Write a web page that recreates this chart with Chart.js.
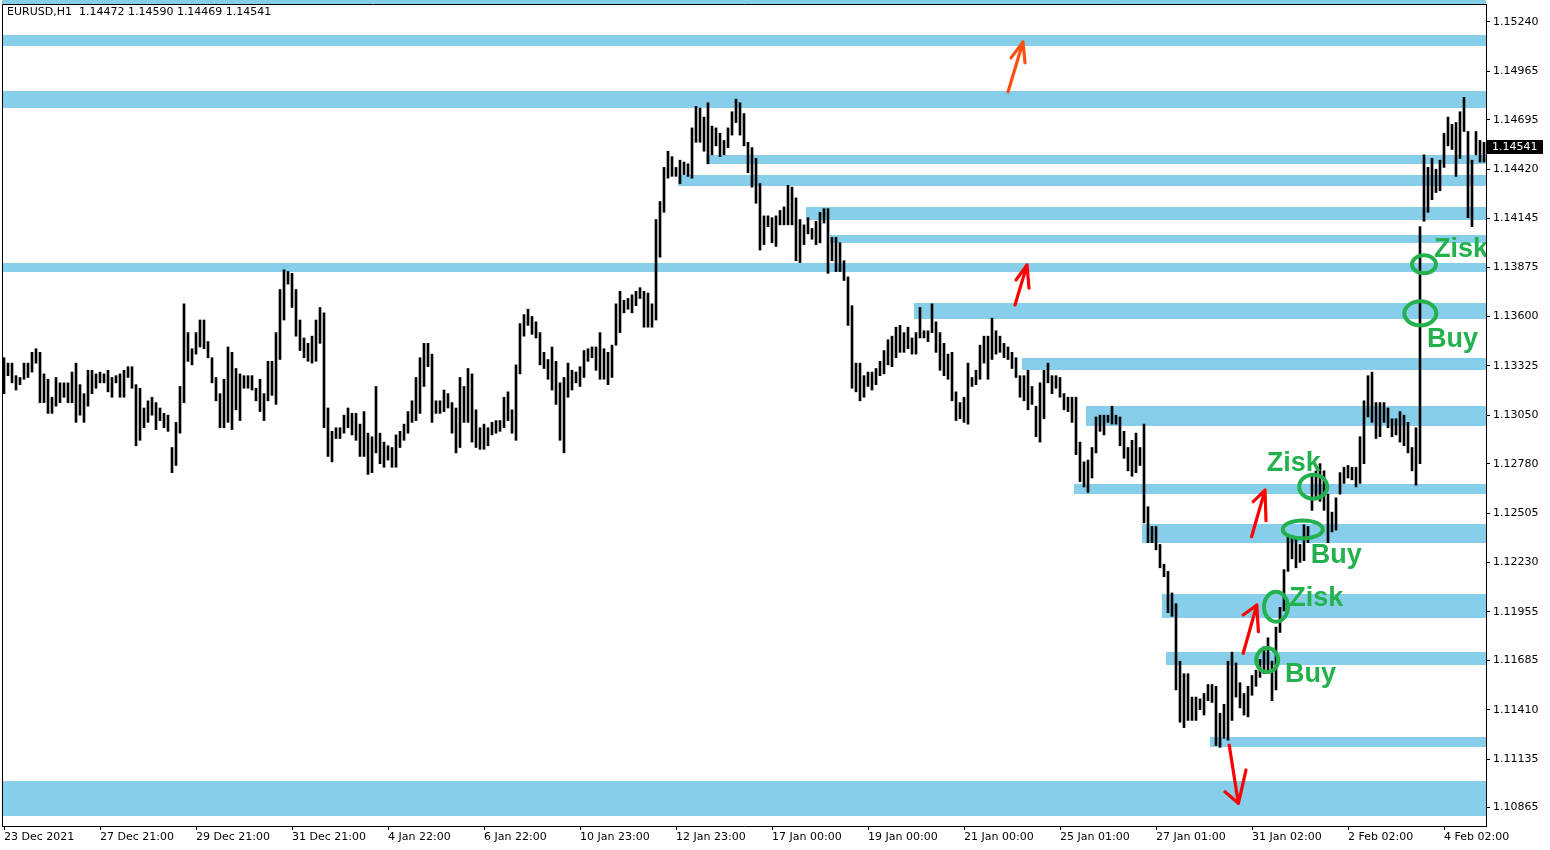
<!DOCTYPE html>
<html>
<head>
<meta charset="utf-8">
<title>EURUSD,H1</title>
<script src="https://cdn.jsdelivr.net/npm/chart.js@4.4.1/dist/chart.umd.min.js"></script>
<style>
  html, body { margin: 0; padding: 0; background: #fff; }
  #wrap { width: 1550px; height: 850px; }
</style>
</head>
<body>
<div id="wrap"><canvas id="mt4Chart" width="1550" height="850"></canvas></div>
<script>
// EURUSD H1, two hourly bars merged into one high/low range
const symbolName = 'EURUSD,H1';
const headerValues = [1.14472, 1.14590, 1.14469, 1.14541]; // open high low close

const timeLabels = ['23 Dec 2021', '27 Dec 21:00', '29 Dec 21:00', '31 Dec 21:00', '4 Jan 22:00', '6 Jan 22:00',
  '10 Jan 23:00', '12 Jan 23:00', '17 Jan 00:00', '19 Jan 00:00', '21 Jan 00:00', '25 Jan 01:00',
  '27 Jan 01:00', '31 Jan 02:00', '2 Feb 02:00', '4 Feb 02:00'];
const barsPerLabel = 24;

const priceTicks = [1.15240, 1.14965, 1.14695, 1.14420, 1.14145, 1.13875, 1.13600, 1.13325, 1.13050,
  1.12780, 1.12505, 1.12230, 1.11955, 1.11685, 1.11410, 1.11135, 1.10865];

const highs = [
  1.1337, 1.1334, 1.1334, 1.1327, 1.1326, 1.1334, 1.1334, 1.1340, 1.1342, 1.1340,
  1.1328, 1.1325, 1.1315, 1.1326, 1.1323, 1.1323, 1.1323, 1.1329, 1.1334, 1.1322,
  1.1317, 1.1330, 1.1330, 1.1328, 1.1329, 1.1328, 1.1330, 1.1326, 1.1327, 1.1328,
  1.1330, 1.1332, 1.1332, 1.1322, 1.1320, 1.1309, 1.1313, 1.1315, 1.1312, 1.1309,
  1.1306, 1.1305, 1.1287, 1.1301, 1.1321, 1.1367, 1.1351, 1.1342, 1.1351, 1.1358,
  1.1358, 1.1346, 1.1337, 1.1326, 1.1317, 1.1325, 1.1343, 1.1340, 1.1331, 1.1328,
  1.1327, 1.1327, 1.1327, 1.1320, 1.1325, 1.1317, 1.1335, 1.1335, 1.1351, 1.1375,
  1.1386, 1.1385, 1.1384, 1.1375, 1.1358, 1.1348, 1.1345, 1.1349, 1.1358, 1.1365,
  1.1362, 1.1309, 1.1296, 1.1298, 1.1298, 1.1305, 1.1309, 1.1306, 1.1306, 1.1300,
  1.1307, 1.1295, 1.1293, 1.1321, 1.1295, 1.1290, 1.1288, 1.1287, 1.1294, 1.1296,
  1.1300, 1.1307, 1.1313, 1.1326, 1.1337, 1.1345, 1.1345, 1.1339, 1.1313, 1.1313,
  1.1319, 1.1317, 1.1312, 1.1309, 1.1326, 1.1321, 1.1331, 1.1328, 1.1308, 1.1298,
  1.1300, 1.1298, 1.1301, 1.1302, 1.1302, 1.1315, 1.1318, 1.1308, 1.1333, 1.1356,
  1.1361, 1.1364, 1.1360, 1.1357, 1.1351, 1.1340, 1.1336, 1.1343, 1.1335, 1.1323,
  1.1326, 1.1334, 1.1330, 1.1329, 1.1332, 1.1341, 1.1342, 1.1343, 1.1343, 1.1351,
  1.1342, 1.1340, 1.1344, 1.1367, 1.1374, 1.1369, 1.1370, 1.1372, 1.1374, 1.1376,
  1.1374, 1.1373, 1.1367, 1.1414, 1.1424, 1.1443, 1.1452, 1.1449, 1.1443, 1.1447,
  1.1446, 1.1445, 1.1465, 1.1477, 1.1476, 1.1471, 1.1479, 1.1466, 1.1465, 1.1462,
  1.1458, 1.1465, 1.1474, 1.1481, 1.1479, 1.1473, 1.1457, 1.1454, 1.1448, 1.1434,
  1.1416, 1.1416, 1.1415, 1.1416, 1.1419, 1.1421, 1.1433, 1.1432, 1.1426, 1.1414,
  1.1411, 1.1415, 1.1409, 1.1413, 1.1418, 1.1420, 1.1420, 1.1404, 1.1404, 1.1401,
  1.1391, 1.1382, 1.1366, 1.1334, 1.1334, 1.1327, 1.1329, 1.1329, 1.1331, 1.1335,
  1.1341, 1.1347, 1.1349, 1.1354, 1.1355, 1.1351, 1.1354, 1.1348, 1.1351, 1.1365,
  1.1352, 1.1352, 1.1367, 1.1357, 1.1351, 1.1345, 1.1339, 1.1340, 1.1318, 1.1312,
  1.1315, 1.1334, 1.1326, 1.1330, 1.1344, 1.1349, 1.1349, 1.1359, 1.1352, 1.1349,
  1.1345, 1.1343, 1.1340, 1.1337, 1.1327, 1.1327, 1.1330, 1.1321, 1.1310, 1.1323,
  1.1330, 1.1334, 1.1327, 1.1327, 1.1326, 1.1317, 1.1315, 1.1315, 1.1315, 1.1290,
  1.1279, 1.1280, 1.1287, 1.1304, 1.1305, 1.1305, 1.1305, 1.1310, 1.1305, 1.1304,
  1.1296, 1.1287, 1.1291, 1.1295, 1.1287, 1.1300, 1.1254, 1.1243, 1.1243, 1.1233,
  1.1222, 1.1218, 1.1206, 1.1200, 1.1168, 1.1161, 1.1161, 1.1148, 1.1148, 1.1147,
  1.1150, 1.1155, 1.1155, 1.1154, 1.1139, 1.1144, 1.1168, 1.1173, 1.1167, 1.1156,
  1.1150, 1.1154, 1.1160, 1.1163, 1.1169, 1.1176, 1.1181, 1.1168, 1.1187, 1.1198,
  1.1219, 1.1237, 1.1237, 1.1237, 1.1233, 1.1244, 1.1243, 1.1271, 1.1274, 1.1278,
  1.1274, 1.1261, 1.1251, 1.1259, 1.1273, 1.1276, 1.1277, 1.1276, 1.1276, 1.1293,
  1.1313, 1.1327, 1.1329, 1.1312, 1.1312, 1.1312, 1.1309, 1.1303, 1.1303, 1.1307,
  1.1305, 1.1301, 1.1287, 1.1298, 1.1410, 1.1450, 1.1443, 1.1448, 1.1442, 1.1447,
  1.1462, 1.1471, 1.1467, 1.1468, 1.1474, 1.1482, 1.1463, 1.1447, 1.1463, 1.1458, 1.1457
];

const lows = [
  1.1317, 1.1327, 1.1323, 1.1319, 1.1322, 1.1325, 1.1326, 1.1329, 1.1334, 1.1312,
  1.1312, 1.1306, 1.1306, 1.1310, 1.1312, 1.1315, 1.1312, 1.1312, 1.1301, 1.1305,
  1.1301, 1.1310, 1.1317, 1.1320, 1.1323, 1.1323, 1.1318, 1.1315, 1.1323, 1.1315,
  1.1315, 1.1326, 1.1320, 1.1288, 1.1291, 1.1298, 1.1301, 1.1305, 1.1297, 1.1302,
  1.1298, 1.1296, 1.1273, 1.1277, 1.1295, 1.1312, 1.1335, 1.1333, 1.1339, 1.1343,
  1.1342, 1.1337, 1.1323, 1.1313, 1.1298, 1.1298, 1.1301, 1.1297, 1.1308, 1.1302,
  1.1320, 1.1320, 1.1319, 1.1313, 1.1307, 1.1302, 1.1313, 1.1316, 1.1311, 1.1336,
  1.1358, 1.1378, 1.1365, 1.1349, 1.1341, 1.1337, 1.1335, 1.1334, 1.1335, 1.1345,
  1.1298, 1.1282, 1.1279, 1.1292, 1.1292, 1.1295, 1.1298, 1.1294, 1.1291, 1.1282,
  1.1282, 1.1272, 1.1273, 1.1284, 1.1278, 1.1276, 1.1280, 1.1276, 1.1276, 1.1287,
  1.1291, 1.1295, 1.1301, 1.1302, 1.1306, 1.1321, 1.1332, 1.1301, 1.1306, 1.1306,
  1.1307, 1.1309, 1.1295, 1.1284, 1.1287, 1.1301, 1.1301, 1.1290, 1.1287, 1.1286,
  1.1286, 1.1288, 1.1294, 1.1295, 1.1296, 1.1298, 1.1302, 1.1295, 1.1291, 1.1328,
  1.1349, 1.1355, 1.1350, 1.1348, 1.1333, 1.1331, 1.1325, 1.1319, 1.1311, 1.1291,
  1.1284, 1.1315, 1.1319, 1.1323, 1.1321, 1.1326, 1.1335, 1.1337, 1.1330, 1.1325,
  1.1325, 1.1322, 1.1326, 1.1344, 1.1351, 1.1362, 1.1364, 1.1362, 1.1366, 1.1370,
  1.1354, 1.1354, 1.1354, 1.1358, 1.1393, 1.1418, 1.1437, 1.1438, 1.1438, 1.1434,
  1.1439, 1.1438, 1.1437, 1.1457, 1.1457, 1.1452, 1.1445, 1.1450, 1.1455, 1.1449,
  1.1450, 1.1454, 1.1461, 1.1468, 1.1461, 1.1455, 1.1440, 1.1432, 1.1423, 1.1397,
  1.1400, 1.1410, 1.1401, 1.1399, 1.1411, 1.1411, 1.1411, 1.1411, 1.1391, 1.1390,
  1.1400, 1.1406, 1.1403, 1.1400, 1.1401, 1.1412, 1.1384, 1.1391, 1.1385, 1.1385,
  1.1380, 1.1355, 1.1320, 1.1318, 1.1313, 1.1315, 1.1321, 1.1319, 1.1322, 1.1327,
  1.1328, 1.1333, 1.1332, 1.1337, 1.1340, 1.1340, 1.1342, 1.1339, 1.1339, 1.1348,
  1.1348, 1.1346, 1.1351, 1.1340, 1.1330, 1.1327, 1.1325, 1.1313, 1.1302, 1.1303,
  1.1301, 1.1300, 1.1321, 1.1322, 1.1325, 1.1334, 1.1325, 1.1336, 1.1339, 1.1340,
  1.1337, 1.1336, 1.1331, 1.1326, 1.1315, 1.1313, 1.1308, 1.1311, 1.1293, 1.1290,
  1.1303, 1.1323, 1.1317, 1.1320, 1.1315, 1.1308, 1.1307, 1.1301, 1.1283, 1.1268,
  1.1265, 1.1262, 1.1270, 1.1284, 1.1296, 1.1294, 1.1301, 1.1300, 1.1300, 1.1288,
  1.1281, 1.1274, 1.1271, 1.1273, 1.1277, 1.1245, 1.1234, 1.1234, 1.1230, 1.1220,
  1.1215, 1.1195, 1.1193, 1.1152, 1.1134, 1.1131, 1.1135, 1.1135, 1.1135, 1.1141,
  1.1138, 1.1146, 1.1145, 1.1121, 1.1120, 1.1125, 1.1124, 1.1135, 1.1148, 1.1142,
  1.1138, 1.1137, 1.1149, 1.1154, 1.1159, 1.1161, 1.1163, 1.1146, 1.1152, 1.1184,
  1.1196, 1.1218, 1.1225, 1.1220, 1.1223, 1.1224, 1.1234, 1.1252, 1.1259, 1.1257,
  1.1252, 1.1234, 1.1240, 1.1241, 1.1261, 1.1267, 1.1270, 1.1269, 1.1265, 1.1267,
  1.1278, 1.1304, 1.1301, 1.1292, 1.1293, 1.1301, 1.1298, 1.1293, 1.1294, 1.1290,
  1.1288, 1.1284, 1.1274, 1.1266, 1.1278, 1.1413, 1.1418, 1.1425, 1.1429, 1.1430,
  1.1443, 1.1455, 1.1453, 1.1438, 1.1448, 1.1463, 1.1415, 1.1410, 1.1450, 1.1446, 1.1446
];

// support / resistance zones (start bar, upper price, lower price) - run to the right edge
const zoneStart = [0, 0, 0, 176, 169, 201, 207, 0, 228, 255, 271, 268, 285, 290, 291, 302, 0];
const zoneTop = [1.15370, 1.15168, 1.14856, 1.14499, 1.14388, 1.14210, 1.14054, 1.13898, 1.13675,
  1.13369, 1.13101, 1.12667, 1.12444, 1.12054, 1.11731, 1.11257, 1.11012];
const zoneBottom = [1.15340, 1.15106, 1.14761, 1.14449, 1.14327, 1.14137, 1.14009, 1.13848, 1.13586,
  1.13302, 1.12990, 1.12611, 1.12338, 1.11920, 1.11659, 1.11202, 1.10817];

// hand drawn arrows: [bar, price]
const arrowTail = [[251, 1.14850], [252.75, 1.13664], [311.9, 1.12373], [309.8, 1.11724], [306.3, 1.11213]];
const arrowTip = [[254.75, 1.15129], [255.75, 1.13887], [315.25, 1.12633], [313.2, 1.11993], [308.6, 1.10888]];
const arrowWingA = [[251.75, 1.15040], [253, 1.13803], [312.3, 1.12568], [309.8, 1.11937], [305.25, 1.10953]];
const arrowWingB = [[255.25, 1.15012], [256.25, 1.13758], [315.5, 1.12462], [313.6, 1.11844], [310.5, 1.11074]];

// green rings and notes
const ringCenters = [[355.0, 1.13890], [354.08, 1.13617], [327.3, 1.12652], [324.7, 1.12414], [318.0, 1.11983], [315.8, 1.11686]];
const noteTexts = ['Zisk', 'Buy', 'Zisk', 'Buy', 'Zisk', 'Buy'];
const notePos = [[357.5, 1.13933], [355.75, 1.13430], [315.7, 1.12741], [326.7, 1.12225], [321.3, 1.11987], [320.25, 1.11566]];

// styles
const zoneColor = '#87CEEB';
const arrowColors = ['#FF5014', '#FF0000', '#FF0000', '#FF0000', '#FF0000'];
const ringSizes = [[12, 9], [16, 12], [14, 12], [20, 9], [12, 15], [11, 12]];
const noteColor = '#22B14C';

const categories = highs.map((h, i) => (i % barsPerLabel === 0 ? (timeLabels[i / barsPerLabel] || '') : ''));
const ranges = highs.map((h, i) => [lows[i], h]);

Chart.defaults.font.family = '"DejaVu Sans", sans-serif';
Chart.defaults.font.size = 11;
Chart.defaults.color = '#000';

const toPx = (chart, p) => [chart.scales.x.getPixelForValue(p[0]), chart.scales.y.getPixelForValue(p[1])];

const mt4Overlay = {
  id: 'mt4Overlay',
  beforeDatasetsDraw(chart) {
    const { ctx, chartArea: area, scales: { x, y } } = chart;
    const half = (x.getPixelForValue(1) - x.getPixelForValue(0)) / 2;
    ctx.save();
    ctx.beginPath();
    ctx.rect(area.left, 0, area.right - area.left, area.bottom);
    ctx.clip();
    ctx.fillStyle = zoneColor;
    zoneTop.forEach((top, i) => {
      const x0 = Math.round(x.getPixelForValue(zoneStart[i]) - half);
      const y0 = y.getPixelForValue(top);
      const y1 = y.getPixelForValue(zoneBottom[i]);
      ctx.fillRect(x0, Math.round(y0), area.right - x0, Math.round(y1 - y0));
    });
    ctx.restore();
  },
  afterDatasetsDraw(chart) {
    const { ctx, chartArea: area } = chart;
    ctx.save();
    ctx.beginPath();
    ctx.rect(area.left, area.top, area.right - area.left, area.bottom - area.top);
    ctx.clip();

    // arrows
    ctx.lineWidth = 3.2;
    ctx.lineCap = 'round';
    ctx.lineJoin = 'round';
    arrowTail.forEach((t, i) => {
      const a = toPx(chart, t), b = toPx(chart, arrowTip[i]);
      const w1 = toPx(chart, arrowWingA[i]), w2 = toPx(chart, arrowWingB[i]);
      ctx.strokeStyle = arrowColors[i];
      ctx.beginPath();
      ctx.moveTo(a[0], a[1]); ctx.lineTo(b[0], b[1]);
      ctx.moveTo(w1[0], w1[1]); ctx.lineTo(b[0], b[1]); ctx.lineTo(w2[0], w2[1]);
      ctx.stroke();
    });

    // rings
    ctx.strokeStyle = noteColor;
    ctx.lineWidth = 4;
    ringCenters.forEach((c, i) => {
      const p = toPx(chart, c);
      ctx.beginPath();
      ctx.ellipse(p[0], p[1], ringSizes[i][0], ringSizes[i][1], 0, 0, Math.PI * 2);
      ctx.stroke();
    });

    // notes
    ctx.fillStyle = noteColor;
    ctx.font = 'bold 27px "Liberation Sans", Arial, sans-serif';
    ctx.textAlign = 'left';
    ctx.textBaseline = 'alphabetic';
    noteTexts.forEach((txt, i) => {
      const p = toPx(chart, notePos[i]);
      ctx.fillText(txt, p[0], p[1]);
    });
    ctx.restore();
  },
  afterDraw(chart) {
    const { ctx, chartArea: area, scales: { y } } = chart;
    ctx.save();
    // frame (left + top; right and bottom come from the axes)
    ctx.strokeStyle = '#000';
    ctx.lineWidth = 1;
    ctx.beginPath();
    ctx.moveTo(area.left + 0.5, area.bottom);
    ctx.lineTo(area.left + 0.5, area.top + 0.5);
    ctx.lineTo(area.right, area.top + 0.5);
    ctx.stroke();

    // header
    ctx.fillStyle = '#000';
    ctx.font = '11px "DejaVu Sans", sans-serif';
    ctx.textBaseline = 'middle';
    ctx.textAlign = 'left';
    ctx.fillText(symbolName + '  ' + headerValues.map(v => v.toFixed(5)).join(' '), area.left + 5, area.top + 8);

    // last price box
    const last = headerValues[3];
    const py = Math.round(y.getPixelForValue(last));
    ctx.fillStyle = '#000';
    ctx.fillRect(area.right + 1, py - 7, 56, 14);
    ctx.fillStyle = '#fff';
    ctx.fillText(last.toFixed(5), area.right + 6, py);
    ctx.restore();
  }
};

new Chart(document.getElementById('mt4Chart'), {
  type: 'bar',
  data: {
    labels: categories,
    datasets: [{
      label: symbolName,
      data: ranges,
      backgroundColor: '#000',
      borderWidth: 0,
      barThickness: 2
    }]
  },
  options: {
    responsive: false,
    animation: false,
    devicePixelRatio: 1,
    layout: { padding: { left: 2, top: 4, right: 0, bottom: 0 } },
    plugins: { legend: { display: false }, tooltip: { enabled: false } },
    scales: {
      x: {
        offset: true,
        grid: { display: true, offset: false, drawOnChartArea: false, drawTicks: true, tickLength: 4, color: '#000' },
        border: { display: true, color: '#000' },
        ticks: { autoSkip: false, maxRotation: 0, minRotation: 0, align: 'start', padding: 1 },
        afterBuildTicks: axis => { axis.ticks = axis.ticks.filter(t => t.value % barsPerLabel === 0); },
        afterFit: axis => { axis.height = 24; axis.paddingLeft = 0; axis.paddingRight = 0; }
      },
      y: {
        position: 'right',
        min: 1.10762,
        max: 1.15340,
        grid: { drawOnChartArea: false, drawTicks: true, tickLength: 4, color: '#000' },
        border: { display: true, color: '#000' },
        ticks: { padding: 3, callback: v => Number(v).toFixed(5) },
        afterBuildTicks: axis => { axis.ticks = priceTicks.map(v => ({ value: v })); },
        afterFit: axis => { axis.width = 64; axis.paddingTop = 0; axis.paddingBottom = 0; }
      }
    }
  },
  plugins: [mt4Overlay]
});
</script>
</body>
</html>
